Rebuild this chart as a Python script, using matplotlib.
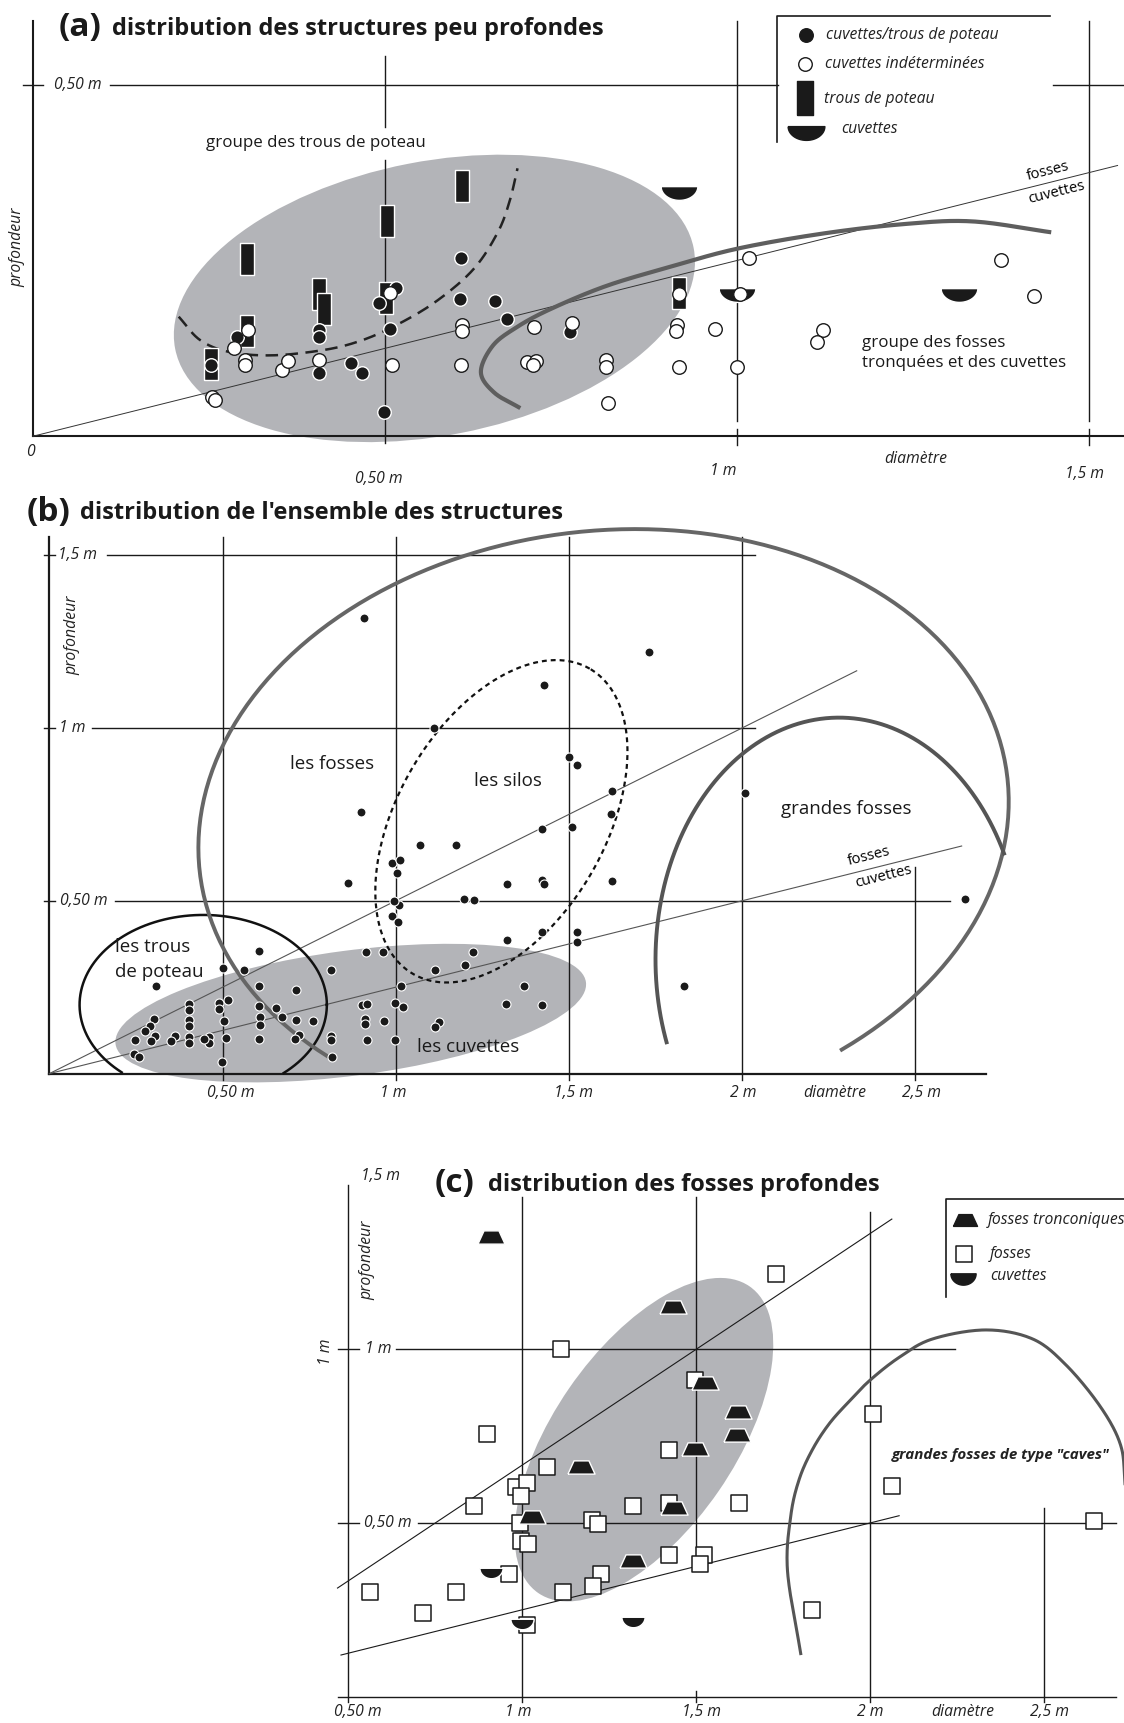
import numpy as np
import matplotlib
matplotlib.use("Agg")
from matplotlib import pyplot as plt
from matplotlib.patches import Ellipse

plt.rcParams["font.family"] = ["Open Sans", "DejaVu Sans"]

GRIS = "#b3b4b8"
TRAIT = "#5e5e5e"

# (a) structures peu profondes : diametre (m), profondeur (m)
a_noir_x = [0.2535, 0.290, 0.4066, 0.4066, 0.4066, 0.452, 0.467, 0.491, 0.515, 0.5076, 0.499,
            0.6076, 0.606, 0.6556, 0.6727, 0.763]
a_noir_y = [0.101, 0.141, 0.1516, 0.141, 0.090, 0.1036, 0.090, 0.189, 0.211, 0.153, 0.034,
            0.253, 0.195, 0.192, 0.167, 0.148]
a_blanc_x = [0.254, 0.259, 0.285, 0.3056, 0.301, 0.301, 0.3535, 0.3626, 0.4056, 0.5066, 0.510,
             0.6096, 0.6096, 0.608, 0.712, 0.702, 0.7146, 0.7106, 0.766, 0.915, 0.913, 0.969,
             1.122, 1.113, 0.814, 0.814, 0.918, 1.0, 0.816, 1.017, 1.374, 1.422, 0.918, 1.004]
a_blanc_y = [0.0565, 0.052, 0.126, 0.1516, 0.108, 0.101, 0.094, 0.107, 0.109, 0.204, 0.101,
             0.158, 0.149, 0.101, 0.156, 0.106, 0.107, 0.101, 0.161, 0.158, 0.149, 0.153,
             0.151, 0.134, 0.108, 0.099, 0.099, 0.099, 0.047, 0.254, 0.251, 0.199, 0.202, 0.202]
a_poteau_x = [0.2535, 0.3045, 0.3045, 0.4056, 0.413, 0.5015, 0.5025, 0.6096, 0.918]
a_poteau_y = [0.103, 0.150, 0.252, 0.2025, 0.181, 0.197, 0.3065, 0.3555, 0.204]
a_cuvette_x = [0.917, 0.999, 1.315]
a_cuvette_y = [0.346, 0.2015, 0.201]

# (b) ensemble des structures
b_x = [0.606, 0.5, 0.561, 0.308, 0.606, 0.713, 0.812, 0.913, 0.963, 1.113, 1.0145,
       0.4044, 0.4044, 0.4044, 0.4044, 0.4044, 0.4044, 0.491, 0.515, 0.491, 0.505, 0.510, 0.498,
       0.461, 0.461, 0.445, 0.363, 0.351, 0.302, 0.289, 0.277, 0.304, 0.294, 0.2481, 0.245, 0.26,
       0.604, 0.607, 0.609, 0.604, 0.655, 0.671, 0.713, 0.7616, 0.720, 0.708,
       0.812, 0.814, 0.817, 0.9035, 0.916, 0.911, 0.911, 0.966, 0.916,
       0.998, 1.022, 0.998, 1.1235, 1.113, 0.99, 1.01, 1.007, 0.995,
       0.908, 1.111, 0.900, 1.427, 1.070, 1.175, 0.990, 1.011, 1.003, 0.861,
       1.320, 1.422, 1.427, 1.422, 1.196, 1.227, 1.320, 1.422, 1.222, 1.199, 1.371, 1.317, 1.422,
       1.731, 1.5, 1.522, 1.625, 1.622, 1.508, 2.007, 1.625, 1.524, 1.522, 2.644, 1.833]
b_y = [0.356, 0.306, 0.301, 0.253, 0.252, 0.243, 0.301, 0.351, 0.353, 0.301, 0.253,
       0.202, 0.183, 0.154, 0.139, 0.106, 0.088, 0.205, 0.213, 0.1875, 0.151, 0.103, 0.034,
       0.106, 0.089, 0.101, 0.109, 0.093, 0.157, 0.139, 0.123, 0.109, 0.093, 0.096, 0.058, 0.048,
       0.195, 0.1635, 0.142, 0.101, 0.190, 0.165, 0.154, 0.151, 0.1106, 0.099,
       0.1087, 0.096, 0.048, 0.199, 0.202, 0.157, 0.144, 0.151, 0.096,
       0.205, 0.192, 0.096, 0.149, 0.1346, 0.457, 0.4875, 0.439, 0.5,
       1.319, 0.999, 0.758, 1.123, 0.661, 0.660, 0.608, 0.617, 0.581, 0.551,
       0.550, 0.559, 0.548, 0.708, 0.5055, 0.501, 0.387, 0.409, 0.351, 0.315, 0.252, 0.202, 0.199,
       1.219, 0.915, 0.894, 0.819, 0.750, 0.7135, 0.813, 0.5586, 0.409, 0.3816, 0.5066, 0.252]

# (c) fosses profondes
c_fosse_x = [1.1115, 0.9, 1.070, 0.981, 1.015, 0.998, 0.8615, 0.995, 0.996, 1.017, 1.2, 1.219,
             1.320, 1.423, 1.421, 1.498, 1.423, 1.522, 1.510, 0.9615, 0.5635, 0.8106, 0.716,
             1.118, 1.227, 1.205, 1.0125, 1.731, 2.0077, 2.063, 1.624, 2.643, 1.833]
c_fosse_y = [1.0, 0.757, 0.661, 0.604, 0.614, 0.577, 0.550, 0.5, 0.449, 0.439, 0.508, 0.497,
             0.550, 0.558, 0.709, 0.913, 0.408, 0.408, 0.382, 0.354, 0.302, 0.3008, 0.2405,
             0.3008, 0.352, 0.320, 0.2066, 1.218, 0.8125, 0.608, 0.558, 0.505, 0.249]
c_tronc_x = [0.9115, 1.4337, 1.525, 1.496, 1.169, 1.029, 1.4356, 1.320, 1.621, 1.617]
c_tronc_y = [1.324, 1.123, 0.9025, 0.714, 0.661, 0.518, 0.542, 0.392, 0.82, 0.754]
c_cuvette_x = [0.9115, 1.0, 1.32]
c_cuvette_y = [0.357, 0.209, 0.214]

# reference frame: 1023 x 1568
W, H = 1023.0, 1568.0


def panel(fig, x0, y0, kx, ky, xlim, ylim):
    left = (x0 + xlim[0] * kx) / W
    right = (x0 + xlim[1] * kx) / W
    top = (y0 - ylim[1] * ky) / H
    bottom = (y0 - ylim[0] * ky) / H
    ax = fig.add_axes([left, 1 - bottom, right - left, bottom - top])
    ax.set_xlim(xlim)
    ax.set_ylim(ylim)
    ax.axis("off")
    return ax


def spline(pts, n=25):
    p = np.asarray(pts, float)
    p = np.vstack([2 * p[0] - p[1], p, 2 * p[-1] - p[-2]])
    t = np.linspace(0, 1, n, endpoint=False)[:, None]
    out = []
    for i in range(1, len(p) - 2):
        p0, p1, p2, p3 = p[i - 1], p[i], p[i + 1], p[i + 2]
        out.append(0.5 * (2 * p1 + (p2 - p0) * t + (2 * p0 - 5 * p1 + 4 * p2 - p3) * t ** 2
                          + (3 * p1 - p0 - 3 * p2 + p3) * t ** 3))
    out.append(p[-2][None])
    s = np.vstack(out)
    return s[:, 0], s[:, 1]


def ellipse_arc(cx, cy, a, b, ang, t0, t1):
    t = np.radians(np.linspace(t0, t1, 300))
    th = np.radians(ang)
    x = a * np.cos(t)
    y = b * np.sin(t)
    return cx + x * np.cos(th) - y * np.sin(th), cy + x * np.sin(th) + y * np.cos(th)


def demi(r):
    t = np.linspace(np.pi, 2 * np.pi, 40)
    v = np.column_stack([np.cos(t), r * np.sin(t) + r / 2])
    return np.vstack([v, v[:1]])


RECT = [(-0.47, -1), (0.47, -1), (0.47, 1), (-0.47, 1), (-0.47, -1)]
TRAP = [(-1, -0.49), (1, -0.49), (0.55, 0.49), (-0.55, 0.49), (-1, -0.49)]
DEMI_A = demi(0.75)
DEMI_C = demi(0.9)

ital = dict(style="italic", fontsize=11.3, color="#222222")
lab_a = dict(fontsize=12.2, color="#1a1a1a")
lab_b = dict(fontsize=13.5, color="#1a1a1a")

fig = plt.figure(figsize=(11.24, 17.23), dpi=100)

# ---------------- (a)
ax = panel(fig, 30, 397, 641, 640, (-0.0468, 1.549), (-0.083, 0.620))
ax.add_patch(Ellipse((0.57, 0.196), 0.75, 0.39, angle=11, color=GRIS, lw=0, zorder=1))
k = dict(color="#1a1a1a", lw=1.0, zorder=2)
ax.plot([0, 1.549], [0, 0], color="#1a1a1a", lw=1.5, zorder=2)
ax.plot([0, 0], [0, 0.591], color="#1a1a1a", lw=1.5, zorder=2)
ax.plot([-0.014, 0.014], [0.5, 0.5], **k)
ax.plot([0.109, 1.058], [0.5, 0.5], **k)
ax.plot([1.449, 1.549], [0.5, 0.5], **k)
ax.plot([0.5, 0.5], [0.541, 0.44], **k)
ax.plot([0.5, 0.5], [0.393, -0.01], **k)
for xv in (1.0, 1.5):
    ax.plot([xv, xv], [0.59, 0.022], **k)
    ax.plot([xv, xv], [0.01, -0.013], **k)
ax.plot([0, 1.54], [0, 0.385], color="#333333", lw=0.7, zorder=2)
ax.plot(*spline([(0.207, 0.17), (0.237, 0.137), (0.278, 0.12), (0.338, 0.115), (0.409, 0.122),
                 (0.46, 0.134), (0.51, 0.155), (0.57, 0.19), (0.625, 0.237), (0.66, 0.29),
                 (0.677, 0.335), (0.688, 0.381)]),
        color="#222222", lw=1.8, dashes=(5, 3), zorder=3)
ax.plot(*spline([(0.692, 0.04), (0.655, 0.062), (0.636, 0.091), (0.6527, 0.1285), (0.686, 0.1545),
                 (0.733, 0.18), (0.8134, 0.2135), (0.905, 0.241), (1.0, 0.2667), (1.12, 0.288),
                 (1.2368, 0.3017), (1.3337, 0.3055), (1.4458, 0.29)]),
        color=TRAIT, lw=3.0, solid_capstyle="butt", zorder=3)
ax.scatter(a_poteau_x, a_poteau_y, s=520, marker=RECT, c="#1a1a1a", edgecolors="white", linewidths=1, zorder=4)
ax.scatter(a_cuvette_x, a_cuvette_y, s=700, marker=DEMI_A, c="#1a1a1a", edgecolors="white", linewidths=1, zorder=4)
ax.scatter(a_noir_x, a_noir_y, s=95, c="#1a1a1a", edgecolors="white", linewidths=1, zorder=5)
ax.scatter(a_blanc_x, a_blanc_y, s=95, c="white", edgecolors="#1a1a1a", linewidths=1, zorder=5)

# legende (a)
ax.plot([1.0563, 1.0563, 1.4437], [0.419, 0.598, 0.598], color="#1a1a1a", lw=1.2)
ax.scatter([1.098], [0.5706], s=95, c="#1a1a1a")
ax.scatter([1.096], [0.5297], s=95, c="white", edgecolors="#1a1a1a", linewidths=1)
ax.scatter([1.096], [0.4816], s=620, marker=RECT, c="#1a1a1a")
ax.scatter([1.097], [0.4308], s=700, marker=DEMI_A, c="#1a1a1a")
ax.text(1.126, 0.5706, "cuvettes/trous de poteau", va="center", **ital)
ax.text(1.124, 0.5297, "cuvettes indéterminées", va="center", **ital)
ax.text(1.123, 0.479, "trous de poteau", va="center", **ital)
ax.text(1.147, 0.437, "cuvettes", va="center", **ital)

ax.text(0.401, 0.417, "groupe des trous de poteau", ha="center", va="center", **lab_a)
ax.text(1.1765, 0.1332, "groupe des fosses", va="center", **lab_a)
ax.text(1.1765, 0.1036, "tronquées et des cuvettes", va="center", **lab_a)
ax.text(1.441, 0.3766, "fosses", ha="center", va="center", rotation=14, fontsize=10.7)
ax.text(1.453, 0.347, "cuvettes", ha="center", va="center", rotation=14, fontsize=10.7)
ax.text(0.063, 0.5, "0,50 m", ha="center", va="center", **ital)
ax.text(-0.003, -0.023, "0", ha="center", va="center", **ital)
ax.text(0.491, -0.061, "0,50 m", ha="center", va="center", **ital)
ax.text(0.98, -0.05, "1 m", ha="center", va="center", **ital)
ax.text(1.493, -0.053, "1,5 m", ha="center", va="center", **ital)
ax.text(1.253, -0.033, "diamètre", ha="center", va="center", **ital)
ax.text(-0.022, 0.269, "profondeur", ha="center", va="center", rotation=90, **ital)

# ---------------- (b)
ax = panel(fig, 45, 977, 315.2, 314.5, (-0.1428, 3.103), (-0.105, 1.692))
ax.add_patch(Ellipse((0.87, 0.175), 1.37, 0.362, angle=7.5, color=GRIS, lw=0, zorder=1))
ax.plot([0, 2.704], [0, 0], color="#1a1a1a", lw=1.6, zorder=2)
ax.plot([0, 0], [0, 1.554], color="#1a1a1a", lw=1.6, zorder=2)
for yv, x1, x2 in ((1.5, 0.165, 2.036), (1.0, 0.123, 2.036), (0.5, 0.19, 2.6)):
    ax.plot([-0.015, 0.015], [yv, yv], **k)
    ax.plot([x1, x2], [yv, yv], **k)
for xv in (0.5, 1.0, 1.5, 2.0):
    ax.plot([xv, xv], [1.554, -0.02], **k)
ax.plot([2.5, 2.5], [0.597, -0.02], **k)
ax.plot([0, 2.331], [0, 1.1655], color="#555555", lw=0.8, zorder=2)
ax.plot([0, 2.634], [0, 0.6585], color="#555555", lw=0.8, zorder=2)
ex, ey = ellipse_arc(0.444, 0.199, 0.357, 0.26, 0, 0, 360)
ey = np.where(ey < 0, np.nan, ey)
ax.plot(ex, ey, color="#111111", lw=1.8, zorder=3)
ax.plot(*ellipse_arc(1.305, 0.73, 0.51, 0.30, 60, 0, 360), color="#111111", lw=1.6,
        dashes=(2.2, 1.8), zorder=3)
ax.plot(*ellipse_arc(1.6, 0.72, 1.174, 0.85, 6.9, -59, 223), color="#666666", lw=2.8, zorder=3)
ax.plot(*ellipse_arc(2.28, 0.33, 0.53, 0.70, 0, 26, 200), color="#555555", lw=2.8, zorder=3)
ax.scatter(b_x, b_y, s=42, c="#1a1a1a", edgecolors="white", linewidths=0.8, zorder=5)

ax.text(0.816, 0.895, "les fosses", ha="center", va="center", **lab_b)
ax.text(1.324, 0.848, "les silos", ha="center", va="center", **lab_b)
ax.text(2.302, 0.765, "grandes fosses", ha="center", va="center", **lab_b)
ax.text(0.19, 0.366, "les trous", ha="left", va="center", **lab_b)
ax.text(0.19, 0.2925, "de poteau", ha="left", va="center", **lab_b)
ax.text(1.21, 0.076, "les cuvettes", ha="center", va="center", **lab_b)
ax.text(2.3675, 0.628, "fosses", ha="center", va="center", rotation=14, fontsize=10.7)
ax.text(2.407, 0.570, "cuvettes", ha="center", va="center", rotation=14, fontsize=10.7)
ax.text(0.08, 1.5, "1,5 m", ha="center", va="center", **ital)
ax.text(0.067, 1.0, "1 m", ha="center", va="center", **ital)
ax.text(0.1, 0.5, "0,50 m", ha="center", va="center", **ital)
ax.text(0.067, 1.267, "profondeur", ha="center", va="center", rotation=90, **ital)
for xv, lab in ((0.524, "0,50 m"), (0.994, "1 m"), (1.514, "1,5 m"), (2.003, "2 m"),
                (2.267, "diamètre"), (2.517, "2,5 m")):
    ax.text(xv, -0.057, lab, ha="center", va="center", **ital)

# ---------------- (c)
ax = panel(fig, 158.75, 1544, 316.5, 316, (-0.5016, 2.7307), (-0.076, 1.595))
ax.add_patch(Ellipse((1.35, 0.74), 1.072, 0.522, angle=55.5, color=GRIS, lw=0, zorder=1))
ax.plot([0.469, 2.708], [0, 0], **k)
ax.plot([0.5, 0.5], [1.4746, -0.015], **k)
ax.plot([0.471, 0.532], [1.0, 1.0], **k)
ax.plot([0.6375, 2.246], [1.0, 1.0], **k)
ax.plot([0.471, 0.532], [0.5, 0.5], **k)
ax.plot([0.70, 2.708], [0.5, 0.5], **k)
ax.plot([1.0, 1.0], [1.4375, -0.015], **k)
ax.plot([1.5, 1.5], [1.4375, 0.43], **k)
ax.plot([1.5, 1.5], [0.015, -0.015], **k)
ax.plot([2.0, 2.0], [1.395, -0.015], **k)
ax.plot([2.5, 2.5], [0.5445, -0.015], **k)
ax.plot([0.469, 2.063], [0.3127, 1.3753], color="#1a1a1a", lw=0.8, zorder=2)
ax.plot([0.479, 2.084], [0.1198, 0.521], color="#1a1a1a", lw=0.8, zorder=2)
ax.plot(*spline([(1.801, 0.124), (1.763, 0.362), (1.7725, 0.521), (1.797, 0.627), (1.835, 0.712),
                 (1.883, 0.786), (1.94, 0.85), (2.0, 0.911), (2.084, 0.977), (2.18, 1.03),
                 (2.334, 1.056), (2.468, 1.03), (2.564, 0.955), (2.66, 0.839), (2.718, 0.733),
                 (2.7325, 0.632), (2.737, 0.44), (2.735, 0.3)]),
        color="#555555", lw=2.2, zorder=3)
ax.scatter(c_fosse_x, c_fosse_y, s=120, marker="s", c="white", edgecolors="#1a1a1a", linewidths=1.1, zorder=4)
ax.scatter(c_tronc_x, c_tronc_y, s=380, marker=TRAP, c="#1a1a1a", edgecolors="white", linewidths=1, zorder=5)
ax.scatter(c_cuvette_x, c_cuvette_y, s=280, marker=DEMI_C, c="#1a1a1a", edgecolors="white", linewidths=1, zorder=5)

# legende (c)
ax.plot([2.219, 2.219, 2.74], [1.151, 1.432, 1.432], color="#1a1a1a", lw=1.2)
ax.scatter([2.272], [1.374], s=300, marker=TRAP, c="#1a1a1a")
ax.scatter([2.27], [1.276], s=130, marker="s", c="white", edgecolors="#1a1a1a", linewidths=1.1)
ax.scatter([2.268], [1.204], s=330, marker=DEMI_C, c="#1a1a1a")
ax.text(2.339, 1.374, "fosses tronconiques", va="center", **ital)
ax.text(2.345, 1.276, "fosses", va="center", **ital)
ax.text(2.345, 1.21, "cuvettes", va="center", **ital)

ax.text(2.375, 0.696, "grandes fosses de type \"caves\"", ha="center", va="center",
        style="italic", weight="bold", fontsize=10.9, color="#222222")
ax.text(0.594, 1.498, "1,5 m", ha="center", va="center", **ital)
ax.text(0.4356, 0.993, "1 m", ha="center", va="center", rotation=90, **ital)
ax.text(0.556, 1.257, "profondeur", ha="center", va="center", rotation=90, **ital)
ax.text(0.585, 1.0, "1 m", ha="center", va="center", **ital)
ax.text(0.613, 0.5, "0,50 m", ha="center", va="center", **ital)
for xv, lab in ((0.527, "0,50 m"), (0.988, "1 m"), (1.517, "1,5 m"), (2.0, "2 m"),
                (2.267, "diamètre"), (2.516, "2,5 m")):
    ax.text(xv, -0.045, lab, ha="center", va="center", **ital)

# titres
for px, tx, py, lab, name in ((53, 102, 25, "(a)", "distribution des structures peu profondes"),
                              (24, 73, 466, "(b)", "distribution de l'ensemble des structures"),
                              (396, 444, 1077, "(c)", "distribution des fosses profondes")):
    fig.text(px / W, 1 - py / H, lab, ha="left", va="center", fontsize=24, weight="bold", color="#1a1a1a")
    fig.text(tx / W, 1 - (py + 1) / H, name, ha="left", va="center", fontsize=17,
             weight="bold", color="#1a1a1a")

fig.savefig("out.png", dpi=100, facecolor="white")
